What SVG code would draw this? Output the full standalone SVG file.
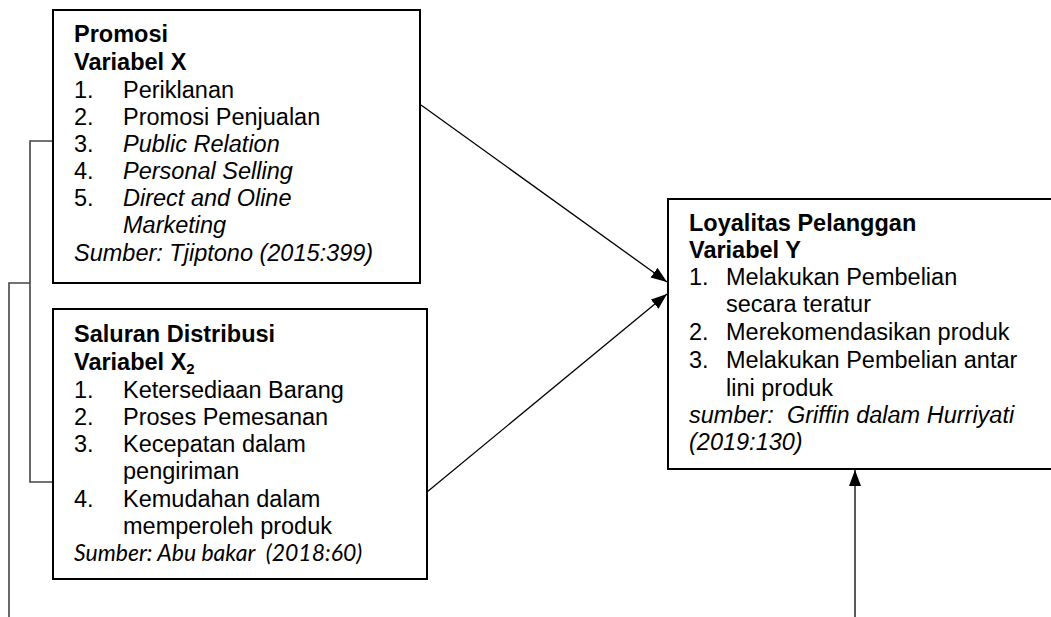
<svg xmlns="http://www.w3.org/2000/svg" width="1051" height="617" viewBox="0 0 1051 617">
<defs>
<marker id="ah" viewBox="0 0 16 12" refX="16" refY="6" markerWidth="16" markerHeight="12" markerUnits="userSpaceOnUse" orient="auto">
<path d="M0,0 L16,6 L0,12 Z" fill="#000"/>
</marker>
<style>
.box{fill:#fff;stroke:#000;stroke-width:2}
.t{font-family:"Liberation Sans",Arial,sans-serif;font-size:23.5px;fill:#000}
.b{font-weight:bold}
.i{font-style:italic}
.c{font-family:Lato,"Liberation Sans",sans-serif;font-size:23px;font-style:italic;fill:#000}
.ln{fill:none;stroke:#000;stroke-width:1.3}
.br{fill:none;stroke:#444;stroke-width:1.6}
</style>
</defs>
<rect width="1051" height="617" fill="#fff"/>
<g id="connectors">
<polyline class="br" points="53,141 30,141 30,482 53,482"/>
<polyline class="br" points="30,283 9,283 9,617"/>
<line class="ln" x1="421" y1="105" x2="667" y2="282" marker-end="url(#ah)"/>
<line class="ln" x1="427" y1="492" x2="667" y2="294" marker-end="url(#ah)"/>
<line class="ln" x1="855" y1="617" x2="855" y2="470" marker-end="url(#ah)"/>
</g>
<g id="promosi">
<rect class="box" x="53" y="10" width="367" height="273"/>
<text class="t b" x="74" y="42">Promosi</text>
<text class="t b" x="74" y="70">Variabel X</text>
<text class="t" x="74" y="98">1.</text><text class="t" x="123" y="98">Periklanan</text>
<text class="t" x="74" y="125">2.</text><text class="t" x="123" y="125">Promosi Penjualan</text>
<text class="t" x="74" y="152">3.</text><text class="t i" x="123" y="152">Public Relation</text>
<text class="t" x="74" y="179">4.</text><text class="t i" x="123" y="179">Personal Selling</text>
<text class="t" x="74" y="206">5.</text><text class="t i" x="123" y="206">Direct and Oline</text>
<text class="t i" x="123" y="233">Marketing</text>
<text class="t i" x="74" y="261">Sumber: Tjiptono (2015:399)</text>
</g>
<g id="saluran">
<rect class="box" x="53" y="309" width="374" height="270"/>
<text class="t b" x="74" y="342">Saluran Distribusi</text>
<text class="t b" x="74" y="370">Variabel X<tspan font-size="15" dy="4">2</tspan></text>
<text class="t" x="74" y="398">1.</text><text class="t" x="123" y="398">Ketersediaan Barang</text>
<text class="t" x="74" y="425">2.</text><text class="t" x="123" y="425">Proses Pemesanan</text>
<text class="t" x="74" y="452">3.</text><text class="t" x="123" y="452">Kecepatan dalam</text>
<text class="t" x="123" y="479">pengiriman</text>
<text class="t" x="74" y="507">4.</text><text class="t" x="123" y="507">Kemudahan dalam</text>
<text class="t" x="123" y="534">memperoleh produk</text>
<text class="c" x="74" y="561" xml:space="preserve">Sumber: Abu bakar  (2018:60)</text>
</g>
<g id="loyalitas">
<rect class="box" x="668" y="199" width="390" height="270"/>
<text class="t b" x="689" y="231">Loyalitas Pelanggan</text>
<text class="t b" x="689" y="258">Variabel Y</text>
<text class="t" x="689" y="285">1.</text><text class="t" x="726" y="285">Melakukan Pembelian</text>
<text class="t" x="726" y="312">secara teratur</text>
<text class="t" x="689" y="340">2.</text><text class="t" x="726" y="340">Merekomendasikan produk</text>
<text class="t" x="689" y="368">3.</text><text class="t" x="726" y="368">Melakukan Pembelian antar</text>
<text class="t" x="726" y="396">lini produk</text>
<text class="t i" x="689" y="423" xml:space="preserve">sumber:  Griffin dalam Hurriyati</text>
<text class="t i" x="689" y="450">(2019:130)</text>
</g>
</svg>
